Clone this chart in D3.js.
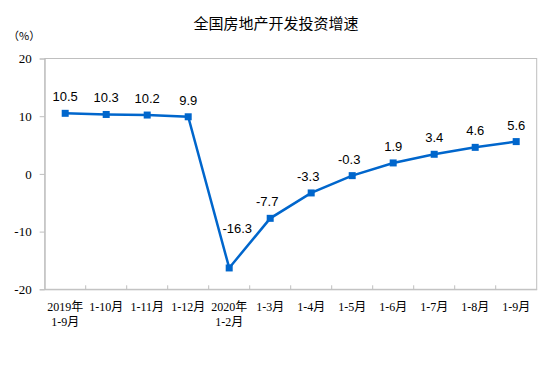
<!DOCTYPE html>
<html><head><meta charset="utf-8">
<script src="https://cdn.jsdelivr.net/npm/d3@7"></script>
<style>body{margin:0;background:#fff}</style>
</head><body>
<svg id="c" width="554" height="367"></svg>
<script>
const categories = [["2019年","1-9月"],["1-10月"],["1-11月"],["1-12月"],["2020年","1-2月"],["1-3月"],["1-4月"],["1-5月"],["1-6月"],["1-7月"],["1-8月"],["1-9月"]];
const values = [10.5,10.3,10.2,9.9,-16.3,-7.7,-3.3,-0.3,1.9,3.4,4.6,5.6];
const yTicks = [20,10,0,-10,-20];
const title = "全国房地产开发投资增速";
const unit = "（%）";

const svg = d3.select("#c");
const L=44.7, R=536.7, T=58.5, B=289.3;
const x = d3.scaleBand().domain(d3.range(categories.length)).range([L,R]);
const y = d3.scaleLinear().domain([-20,20]).range([B,T]);
const grey="#bfbfbf", blue="#0066cc";
const numFont = "'Liberation Serif','Times New Roman',serif";
const cjk = "'Liberation Serif','Noto Sans CJK SC',serif";

svg.append("text").attr("x",276).attr("y",29).attr("text-anchor","middle")
  .attr("font-family","'Noto Sans CJK SC',sans-serif").attr("font-size",15).attr("fill","#000").text(title);
svg.append("text").attr("x",8).attr("y",40).attr("font-family","'Noto Sans CJK SC',sans-serif")
  .attr("font-size",11).attr("fill","#000").text(unit);

// frame
svg.append("rect").attr("x",L).attr("y",T).attr("width",R-L).attr("height",B-T)
  .attr("fill","none").attr("stroke",grey).attr("stroke-width",1);

// y axis
const ya = svg.append("g").attr("transform",`translate(${L},0)`)
  .call(d3.axisLeft(y).tickValues(yTicks).tickSize(5).tickPadding(8).tickFormat(d=>String(d)));
ya.select(".domain").attr("stroke",grey);
ya.selectAll(".tick line").attr("stroke",grey);
ya.selectAll(".tick text").attr("font-family",numFont).attr("font-size",13).attr("fill","#000");

// x axis ticks (inward)
const xa = svg.append("g").attr("transform",`translate(0,${B})`)
  .call(d3.axisBottom(x).tickSize(0).tickFormat(""));
xa.select(".domain").attr("stroke",grey);
const bounds = d3.range(1,categories.length).map(i=>x(i));
svg.append("g").selectAll("line").data(bounds).join("line")
  .attr("x1",d=>d).attr("x2",d=>d).attr("y1",B-4).attr("y2",B).attr("stroke",grey);

// x labels
const xl = svg.append("g").selectAll("text").data(categories).join("text")
  .attr("x",(d,i)=>x(i)+x.bandwidth()/2).attr("y",311)
  .attr("text-anchor","middle").attr("font-family",cjk).attr("font-size",12).attr("fill","#000");
xl.each(function(d){
  const t=d3.select(this);
  d.forEach((s,j)=>t.append("tspan").attr("x",t.attr("x")).attr("dy",j?15:0).text(s));
});

// line
const cx = i => x(i)+x.bandwidth()/2;
svg.append("path").datum(values)
  .attr("d",d3.line().x((d,i)=>cx(i)).y(d=>y(d)))
  .attr("fill","none").attr("stroke",blue).attr("stroke-width",2.5);
svg.append("g").selectAll("rect").data(values).join("rect")
  .attr("x",(d,i)=>cx(i)-3.5).attr("y",d=>y(d)-3.5).attr("width",7).attr("height",7).attr("fill",blue);

// data labels
const minI = values.indexOf(d3.min(values));
svg.append("g").selectAll("text").data(values).join("text")
  .attr("x",(d,i)=> i===minI ? cx(i)+8 : cx(i) - (d<0?3:0))
  .attr("y",(d,i)=> i===minI ? y(d)-35 : y(d)-12)
  .attr("text-anchor","middle").attr("font-family","'Liberation Sans',Arial,sans-serif")
  .attr("font-size",13).attr("fill","#000").text(d=>d.toFixed(1));
</script>
</body></html>
